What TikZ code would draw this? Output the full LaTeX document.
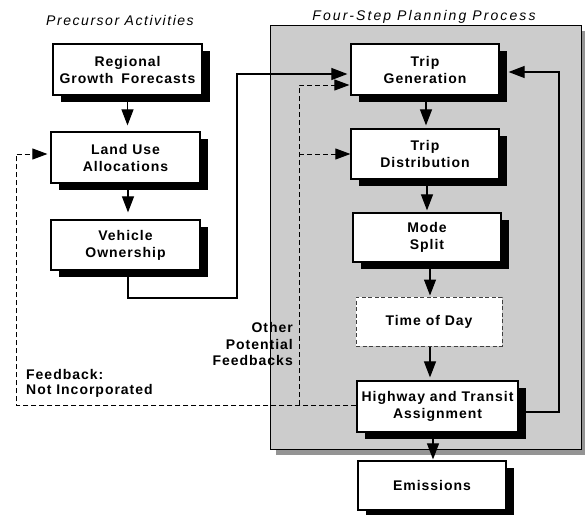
\documentclass[tikz,border=0pt]{standalone}
\usepackage{fontspec}
\setmainfont{Liberation Sans}
\newfontfamily\bxfont{Liberation Sans}[LetterSpace=7]
\newfontfamily\ttlfont{Liberation Sans}[LetterSpace=11]
\newfontfamily\ttlwidefont{Liberation Sans}[LetterSpace=15]
\usetikzlibrary{arrows.meta,shadows,calc}
\pgfdeclarelayer{bg}
\pgfdeclarelayer{lines}
\pgfsetlayers{bg,lines,main}
\begin{document}
\begin{tikzpicture}[x=1pt,y=-1pt,
  boxfont/.style={font=\bxfont\bfseries\fontsize{14}{17}\selectfont},
  box/.style={boxfont, draw, line width=1.2pt, fill=white, align=center, inner sep=0pt,
    drop shadow={shadow xshift=8pt, shadow yshift=-7pt, opacity=1, fill=black}},
  todbox/.style={boxfont, draw=black!75, line width=1pt, dash pattern=on 4pt off 2.5pt, fill=white, align=center, inner sep=0pt},
  conn/.style={line width=1.1pt, -{Triangle[length=16pt,width=12pt]}},
  dsh/.style={line width=0.9pt, dash pattern=on 5pt off 3pt, -{Triangle[length=15pt,width=11pt]}},
  lbl/.style={font=\bxfont\bfseries\fontsize{14}{16.5}\selectfont, inner sep=0pt},
  ttl/.style={font=\ttlfont\itshape\fontsize{14}{17}\selectfont, inner sep=0pt}]
\useasboundingbox (0,0) rectangle (585,514);

\begin{pgfonlayer}{bg}
  \fill[black!42] (276,31) rectangle (585,455);
  \draw[line width=0.8pt, fill=black!20] (270,25) rectangle (581,449);
\end{pgfonlayer}

% titles
\node[ttl] (t1) at (120,20) {Precursor Activities};
\node[ttl, font=\ttlwidefont\itshape\fontsize{14}{17}\selectfont] (t2) at (424,17) {Four-Step Planning Process};

% left column
\node[box, minimum width=149pt, minimum height=51pt] (rgf) at (127.5,69.5) {Regional\\Growth\hspace{3pt} Forecasts};
\node[box, minimum width=149pt, minimum height=51pt] (lua) at (125.5,157.5) {Land Use\\Allocations};
\node[box, minimum width=149pt, minimum height=50pt] (vo) at (125.5,245) {Vehicle\\Ownership};

% right column
\node[box, minimum width=148pt, minimum height=51pt] (tg) at (425,69.5) {Trip\\Generation};
\node[box, minimum width=148pt, minimum height=50pt] (td) at (425,154) {Trip\\Distribution};
\node[box, minimum width=148pt, minimum height=49pt] (ms) at (427,237.5) {Mode\\Split};
\node[todbox, minimum width=146pt, minimum height=49pt] (tod) at (429,321.5) {Time of Day};
\node[box, minimum width=161pt, minimum height=51pt] (hw) at (437.5,406.5) {Highway and Transit\\Assignment};
\node[box, minimum width=148pt, minimum height=49pt] (em) at (432,485.5) {Emissions};

% labels
\node[lbl, anchor=east, align=right] (opf) at (293,344) {Other\\Potential\\Feedbacks};
\node[lbl, anchor=west, align=left, font=\bxfont\bfseries\fontsize{14}{15.5}\selectfont] (fni) at (26,383.5) {Feedback:\\Not Incorporated};

% coordinates
\coordinate (vturn) at (237,298);
\coordinate (fbturn) at (559,412);
\coordinate (oR) at (299,405);
\coordinate (oL) at (16,405);
\coordinate (oM) at (299,154);

\begin{pgfonlayer}{lines}
  \draw[conn, shorten >=6pt] (rgf.south) -- (rgf.south |- lua.north);
  \draw[conn, shorten >=7pt] ($(lua.south)+(2.5,0)$) -- ($(vo.north)+(2.5,0)$);
  \draw[conn, shorten >=3pt] ($(vo.south)+(2.5,0)$) |- (vturn) |- ($(tg.west)+(0,4.5)$);
  \draw[conn, shorten >=3pt] ($(tg.south)+(1,0)$) -- ($(td.north)+(1,0)$);
  \draw[conn, shorten >=2pt] ($(td.south)+(2,0)$) -- ($(ms.north)+(0,0)$);
  \draw[conn, shorten >=1pt] ($(ms.south)+(3,0)$) -- ($(tod.north)+(1,0)$);
  \draw[conn, shorten >=3pt] ($(tod.south)+(1,0)$) -- ($(hw.north)+(-7.5,0)$);
  \draw[conn, shorten >=1pt] ($(hw.south)+(-4.5,0)$) -- ($(em.north)+(1,0)$);
  \draw[conn] ($(hw.east)+(0,5.5)$) -- (fbturn) |- ($(tg.east)+(9,2.5)$);
  \draw[dsh, shorten >=3pt] ($(hw.west)+(0,-1.5)$) -- (oL) |- ($(lua.west)+(0,-3.5)$);
  \draw[dsh, shorten >=1pt] (oR) |- ($(tg.west)+(0,15.5)$);
  \draw[dsh] (oM) -- (td.west);
\end{pgfonlayer}
\end{tikzpicture}
\end{document}
